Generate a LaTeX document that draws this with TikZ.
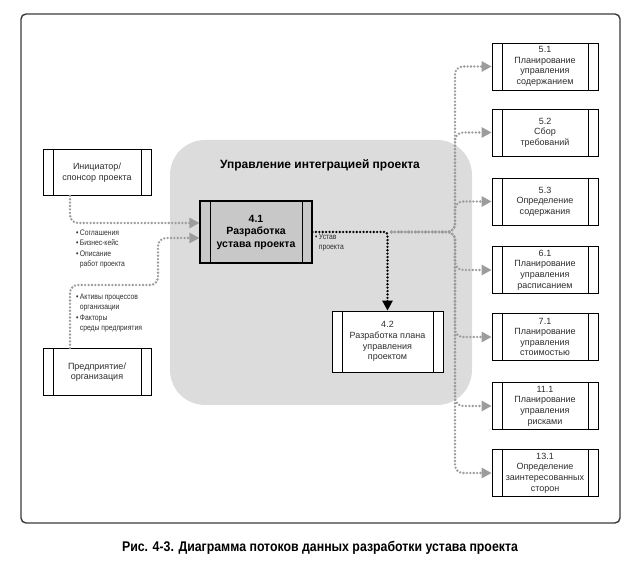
\documentclass[tikz,border=0pt]{standalone}
\usepackage{fontspec}
\setmainfont{Liberation Sans}
\newfontfamily\narrowfont[FakeStretch=0.85]{Liberation Sans}
\newfontfamily\captionfont[FakeStretch=0.88]{Liberation Sans}
\usepackage{tikz}
\usepackage{xcolor}
\usetikzlibrary{arrows.meta, positioning, calc}
\definecolor{PM_Frame}{HTML}{3A3A3A}
\definecolor{PM_Area}{HTML}{DCDCDD}
\definecolor{PM_Core}{HTML}{C8C8C8}
\definecolor{PM_Dots}{HTML}{9C9C9C}
\definecolor{PM_Text}{HTML}{2E2E2E}

\begin{document}
\begin{tikzpicture}[
    x=1pt, y=1pt,
    proc/.style={draw=black, fill=white, line width=0.7pt, minimum width=106pt, minimum height=47pt,
        inner sep=1pt, align=center, text=PM_Text, font=\fontsize{9}{10.6}\selectfont,
        path picture={\draw[line width=0.7pt]
            ([xshift=10pt]path picture bounding box.north west) -- ([xshift=10pt]path picture bounding box.south west)
            ([xshift=-10pt]path picture bounding box.north east) -- ([xshift=-10pt]path picture bounding box.south east);}},
    flow/.style={draw=PM_Dots, line width=2.6pt, dash pattern=on 0pt off 3.4pt, line cap=round,
        rounded corners=8pt, -{Triangle[length=10pt, width=10pt, fill=PM_Dots]}},
    flowblack/.style={flow, draw=black, rounded corners=3pt, -{Triangle[length=10pt, width=10pt, fill=black]}},
    note/.style={align=left, anchor=north west, inner sep=0pt, text=PM_Text,
        font=\narrowfont\fontsize{8}{10.2}\selectfont}
]
\useasboundingbox (0,0) rectangle (640,564);
\draw[PM_Frame, line width=1.4pt, rounded corners=5pt] (21,41) rectangle (620,550);
\fill[PM_Area, rounded corners=35pt] (170,159) rectangle (472,424);
\node[font=\bfseries\fontsize{12}{14}\selectfont, text=black] (title) at (320,399) {Управление интеграцией проекта};

\node[proc, fill=PM_Core, line width=1.1pt, minimum width=112pt, minimum height=62pt,
    font=\bfseries\fontsize{10.5}{12.5}\selectfont, text=black] (p41) at (256,332) {4.1\\Разработка\\устава проекта};
\node[proc, minimum width=111pt, minimum height=61pt] (p42) at (387.5,222.5) {4.2\\Разработка плана\\управления\\проектом};

\node[proc, minimum width=108pt, minimum height=46pt] (ini) at (97,391.5) {Инициатор/\\спонсор проекта};
\node[proc, minimum width=108pt, minimum height=47pt] (ent) at (97,192) {Предприятие/\\организация};

\node[proc] (s51) at (545,497.5) {5.1\\Планирование\\управления\\содержанием};
\node[proc] (s52) at (545,431.5) {5.2\\Сбор\\требований};
\node[proc] (s53) at (545,362.5) {5.3\\Определение\\содержания};
\node[proc] (s61) at (545,294) {6.1\\Планирование\\управления\\расписанием};
\node[proc] (s71) at (545,227) {7.1\\Планирование\\управления\\стоимостью};
\node[proc] (s111) at (545,158) {11.1\\Планирование\\управления\\рисками};
\node[proc] (s131) at (545,91) {13.1\\Определение\\заинтересованных\\сторон};

\node[note] (inputs1) at (76,334) {\textbullet\,Соглашения\\\textbullet\,Бизнес-кейс\\\textbullet\,Описание\\\phantom{\textbullet\,}работ проекта};
\node[note] (inputs2) at (76,270) {\textbullet\,Активы процессов\\\phantom{\textbullet\,}организации\\\textbullet\,Факторы\\\phantom{\textbullet\,}среды предприятия};
\node[note] (charter) at (315,330) {\textbullet\,Устав\\\phantom{\textbullet\,}проекта};

\coordinate (jog) at (158,279);
\coordinate (trunk) at (455,0);
\coordinate (fork) at (p41.east -| p42.north);

\draw[flow] ([xshift=-27pt]ini.south) |- ([yshift=9pt]p41.west);
\draw[flow] ([xshift=-27pt]ent.north) |- (jog) |- ([yshift=-6pt]p41.west);
\draw[flowblack] (p41.east) -| (p42.north);
\foreach \b in {s51,s52,s53,s61,s71,s111,s131}
    \draw[flow] ([xshift=4pt]fork) -| (\b.west -| trunk) -- (\b.west);

\node[font=\captionfont\bfseries\fontsize{14}{16}\selectfont, text=black] (caption) at (320,16)
    {Рис. 4-3. Диаграмма потоков данных разработки устава проекта};
\end{tikzpicture}
\end{document}
